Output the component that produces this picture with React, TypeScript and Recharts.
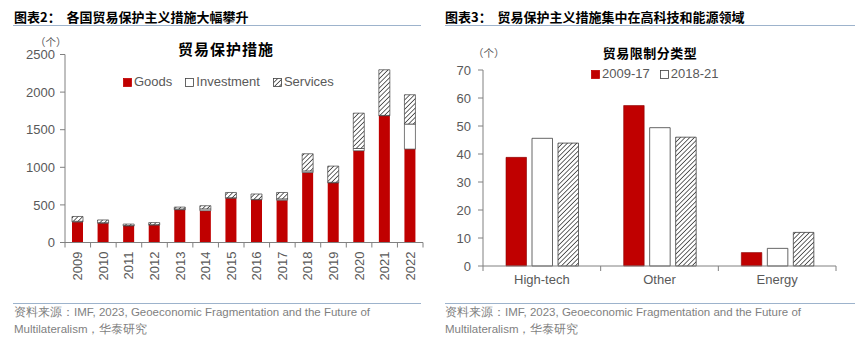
import React from 'react';
import { BarChart, Bar, XAxis, YAxis } from 'recharts';

// left panel: trade protection measures by year
const years = ['2009', '2010', '2011', '2012', '2013', '2014', '2015', '2016', '2017', '2018', '2019', '2020', '2021', '2022'];
const goods = [272, 258, 220, 232, 435, 422, 590, 568, 562, 930, 792, 1220, 1685, 1242];
const investment = [10, 5, 5, 5, 10, 25, 5, 5, 18, 22, 8, 30, 5, 333];
const services = [64, 37, 20, 28, 26, 42, 70, 72, 85, 228, 216, 470, 607, 390];
const leftTicks = [0, 500, 1000, 1500, 2000, 2500];
const leftLegend = ['Goods', 'Investment', 'Services'];

// right panel: trade restrictions by type
const sectors = ['High-tech', 'Other', 'Energy'];
const period0917 = [38.8, 57.3, 4.8];
const period1821 = [45.6, 49.4, 6.3];
const periodHatched = [43.9, 46, 12];
const rightTicks = [0, 10, 20, 30, 40, 50, 60, 70];
const rightLegend = ['2009-17', '2018-21'];

const leftData = years.map((year, i) => ({
  year,
  goods: goods[i],
  investment: investment[i],
  services: services[i],
}));

const rightData = sectors.map((sector, i) => ({
  sector,
  p0917: period0917[i],
  p1821: period1821[i],
  pHatch: periodHatched[i],
}));

const RED = '#C00000';
const TEXT = '#595959';
const AXIS = '#808080';
const EDGE = '#404040';
const RULE = '#9DB3CC';
const NUM_FONT = '"Liberation Sans", Arial, sans-serif';
const CJK_FONT = '"Noto Sans CJK SC", "Noto Sans", sans-serif';

const L_YAXIS_W = 65;
const L_PLOT_W = 358;
const L_BAND = L_PLOT_W / years.length;

const R_YAXIS_W = 53;
const R_PLOT_W = 353;
const R_BAND = R_PLOT_W / sectors.length;

const Hatch = ({ id }: { id: string }) => (
  <defs>
    <pattern id={id} patternUnits="userSpaceOnUse" width={3.3} height={3.3} patternTransform="rotate(45)">
      <rect width={3.3} height={3.3} fill="#fff" />
      <line x1={0} y1={0} x2={0} y2={3.3} stroke="#333" strokeWidth={1.5} />
    </pattern>
  </defs>
);

function YearTick(props: any) {
  const { x, y, payload, index } = props;
  const half = L_BAND / 2;
  return (
    <g>
      <line x1={x - half} y1={y} x2={x - half} y2={y + 5} stroke={AXIS} />
      {index === years.length - 1 && <line x1={x + half} y1={y} x2={x + half} y2={y + 5} stroke={AXIS} />}
      <text
        transform={`translate(${x},${y + 9}) rotate(-90)`}
        textAnchor="end"
        dy="0.35em"
        fontSize={13}
        fill={TEXT}
        fontFamily={NUM_FONT}
      >
        {payload.value}
      </text>
    </g>
  );
}

function SectorTick(props: any) {
  const { x, y, payload, index } = props;
  const half = R_BAND / 2;
  return (
    <g>
      <line x1={x - half} y1={y} x2={x - half} y2={y + 5} stroke={AXIS} />
      {index === sectors.length - 1 && <line x1={x + half} y1={y} x2={x + half} y2={y + 5} stroke={AXIS} />}
      <text x={x} y={y + 18} textAnchor="middle" fontSize={13} fill={TEXT} fontFamily={NUM_FONT}>
        {payload.value}
      </text>
    </g>
  );
}

const Swatch = ({ kind }: { kind: 'red' | 'white' | 'hatch' }) => (
  <svg width={9} height={9} style={{ display: 'block' }}>
    <Hatch id="legendHatch" />
    <rect
      x={0.5}
      y={0.5}
      width={8}
      height={8}
      fill={kind === 'red' ? RED : kind === 'white' ? '#fff' : 'url(#legendHatch)'}
      stroke={kind === 'red' ? RED : EDGE}
      strokeWidth={0.8}
    />
  </svg>
);

const LegendRow = ({ items, kinds, left, top, gap }: any) => (
  <div
    style={{
      position: 'absolute',
      left,
      top,
      display: 'flex',
      alignItems: 'center',
      gap,
      fontFamily: NUM_FONT,
      fontSize: 13,
      color: TEXT,
      lineHeight: '16px',
    }}
  >
    {items.map((label: string, i: number) => (
      <div key={label} style={{ display: 'flex', alignItems: 'center', gap: 2 }}>
        <Swatch kind={kinds[i]} />
        <span>{label}</span>
      </div>
    ))}
  </div>
);

const titleStyle: React.CSSProperties = {
  position: 'absolute',
  top: 8,
  fontFamily: CJK_FONT,
  fontWeight: 700,
  fontSize: 13,
  lineHeight: '18px',
  color: '#000',
  whiteSpace: 'nowrap',
};

const sourceStyle: React.CSSProperties = {
  position: 'absolute',
  top: 304,
  fontFamily: NUM_FONT,
  fontSize: 11.5,
  lineHeight: '17px',
  color: '#7f7f7f',
  whiteSpace: 'nowrap',
};

const rule = (left: number, top: number, width: number): React.CSSProperties => ({
  position: 'absolute',
  left,
  top,
  width,
  height: 0,
  borderTop: `1.5px solid ${RULE}`,
});

export default function App() {
  return (
    <div style={{ position: 'absolute', left: 0, top: 0, width: 865, height: 340, background: '#fff', overflow: 'hidden' }}>
      {/* left panel */}
      <div style={{ ...titleStyle, left: 14 }}>
        图表2：&nbsp;&nbsp;各国贸易保护主义措施大幅攀升
      </div>
      <div style={rule(13, 25, 408)} />
      <div style={{ position: 'absolute', left: 0, top: 0 }}>
        <BarChart width={430} height={300} data={leftData} margin={{ top: 54.5, right: 430 - L_YAXIS_W - L_PLOT_W, bottom: 12.5, left: 0 }}>
          <Hatch id="hatchL" />
          <XAxis
            dataKey="year"
            height={45}
            interval={0}
            tickLine={false}
            tickSize={0}
            tickMargin={0}
            tick={<YearTick />}
            axisLine={{ stroke: AXIS }}
          />
          <YAxis
            width={L_YAXIS_W}
            domain={[0, 2500]}
            ticks={leftTicks}
            interval={0}
            tickSize={5}
            tickMargin={5}
            axisLine={{ stroke: AXIS }}
            tickLine={{ stroke: AXIS }}
            tick={{ fill: TEXT, fontSize: 13, fontFamily: NUM_FONT }}
          />
          <Bar dataKey="goods" stackId="s" barSize={11} fill={RED} isAnimationActive={false} />
          <Bar dataKey="investment" stackId="s" barSize={11} fill="#fff" stroke={EDGE} strokeWidth={0.7} isAnimationActive={false} />
          <Bar dataKey="services" stackId="s" barSize={11} fill="url(#hatchL)" stroke={EDGE} strokeWidth={0.7} isAnimationActive={false} />
        </BarChart>
      </div>
      <div style={{ position: 'absolute', left: 35, top: 34, fontFamily: CJK_FONT, fontSize: 10.5, color: TEXT, lineHeight: '16px' }}>（个）</div>
      <div style={{ position: 'absolute', left: 226, top: 39, transform: 'translateX(-50%)', fontFamily: CJK_FONT, fontWeight: 700, fontSize: 15, lineHeight: '20px', letterSpacing: 1, whiteSpace: 'nowrap' }}>
        贸易保护措施
      </div>
      <LegendRow items={leftLegend} kinds={['red', 'white', 'hatch']} left={123} top={74} gap={13} />
      <div style={rule(13, 303, 408)} />
      <div style={{ ...sourceStyle, left: 14 }}>
        资料来源：IMF, 2023, Geoeconomic Fragmentation and the Future of
        <br />
        Multilateralism，华泰研究
      </div>

      {/* right panel */}
      <div style={{ ...titleStyle, left: 445 }}>
        图表3：&nbsp;&nbsp;贸易保护主义措施集中在高科技和能源领域
      </div>
      <div style={rule(445, 25, 410)} />
      <div style={{ position: 'absolute', left: 430, top: 0 }}>
        <BarChart
          width={435}
          height={300}
          data={rightData}
          barSize={20.5}
          barGap={5.5}
          margin={{ top: 70, right: 435 - R_YAXIS_W - R_PLOT_W, bottom: 4, left: 0 }}
        >
          <Hatch id="hatchR" />
          <XAxis
            dataKey="sector"
            height={30}
            interval={0}
            tickLine={false}
            tickSize={0}
            tickMargin={0}
            tick={<SectorTick />}
            axisLine={{ stroke: AXIS }}
          />
          <YAxis
            width={R_YAXIS_W}
            domain={[0, 70]}
            ticks={rightTicks}
            interval={0}
            tickSize={5}
            tickMargin={7}
            axisLine={{ stroke: AXIS }}
            tickLine={{ stroke: AXIS }}
            tick={{ fill: TEXT, fontSize: 13, fontFamily: NUM_FONT }}
          />
          <Bar dataKey="p0917" fill={RED} stroke="#8a0000" strokeWidth={0.6} isAnimationActive={false} />
          <Bar dataKey="p1821" fill="#fff" stroke={EDGE} strokeWidth={0.8} isAnimationActive={false} />
          <Bar dataKey="pHatch" fill="url(#hatchR)" stroke={EDGE} strokeWidth={0.8} isAnimationActive={false} />
        </BarChart>
      </div>
      <div style={{ position: 'absolute', left: 473, top: 45, fontFamily: CJK_FONT, fontSize: 10.5, color: TEXT, lineHeight: '16px' }}>（个）</div>
      <div style={{ position: 'absolute', left: 650, top: 44, transform: 'translateX(-50%)', fontFamily: CJK_FONT, fontWeight: 700, fontSize: 13, lineHeight: '18px', letterSpacing: 0.5, whiteSpace: 'nowrap' }}>
        贸易限制分类型
      </div>
      <LegendRow items={rightLegend} kinds={['red', 'white']} left={591} top={66} gap={10} />
      <div style={rule(445, 303, 410)} />
      <div style={{ ...sourceStyle, left: 445 }}>
        资料来源：IMF, 2023, Geoeconomic Fragmentation and the Future of
        <br />
        Multilateralism，华泰研究
      </div>
    </div>
  );
}
